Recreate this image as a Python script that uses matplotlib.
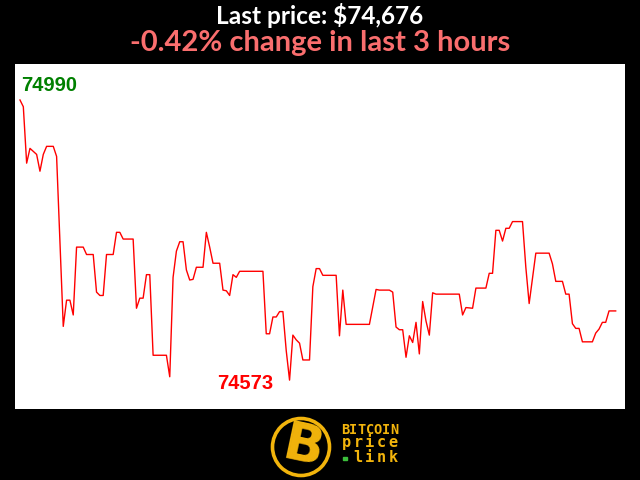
#!/usr/bin/env python
# -*- coding: utf-8 -*-
"""Bitcoin last 3 hours price chart"""

import numpy as np
import matplotlib as mpl
mpl.use("Agg")
import matplotlib.pyplot as plt
from matplotlib.patches import Circle, Rectangle

# minutes since start of window, and price (USD) at that minute
minutes = [0, 1, 2, 3, 5, 6, 7, 8, 10, 11, 13, 14, 15, 16, 17, 19, 20, 22, 23, 24,
           25, 26, 28, 29, 30, 31, 34, 35, 36, 37, 38, 39, 40, 44, 45, 46, 47, 48, 49, 50,
           51, 52, 53, 55, 56, 57, 58, 60, 61, 62, 63, 64, 65, 66, 73, 74, 75, 76, 77, 78,
           79, 80, 81, 82, 83, 84, 85, 87, 88, 89, 90, 91, 95, 96, 97, 98, 105, 107, 108, 111,
           112, 113, 114, 115, 116, 117, 118, 119, 120, 121, 122, 123, 124, 125, 132, 133, 134, 136, 137, 140,
           141, 142, 143, 144, 145, 146, 147, 148, 151, 152, 153, 155, 159, 160, 161, 163, 164, 165, 166, 167,
           168, 169, 172, 173, 174, 175, 176, 177, 179]
prices = [74990, 74980, 74896, 74918, 74909, 74884, 74909, 74921, 74921, 74906,
          74653, 74692, 74692, 74670, 74771, 74771, 74760, 74760, 74704, 74699,
          74699, 74760, 74760, 74793, 74793, 74783, 74783, 74680, 74695, 74695,
          74730, 74730, 74610, 74610, 74578, 74726, 74765, 74779, 74779, 74737,
          74722, 74723, 74741, 74741, 74793, 74771, 74747, 74747, 74707, 74706,
          74699, 74730, 74726, 74735, 74735, 74642, 74642, 74667, 74667, 74675,
          74675, 74617, 74573, 74640, 74633, 74628, 74603, 74603, 74712, 74739,
          74739, 74729, 74729, 74639, 74707, 74656, 74656, 74708, 74707, 74707,
          74704, 74652, 74648, 74648, 74607, 74639, 74629, 74659, 74612, 74690,
          74661, 74640, 74703, 74701, 74701, 74670, 74681, 74680, 74710, 74710,
          74732, 74732, 74796, 74796, 74780, 74799, 74799, 74809, 74809, 74741,
          74687, 74762, 74762, 74746, 74720, 74720, 74701, 74701, 74657, 74650,
          74650, 74630, 74630, 74643, 74649, 74659, 74659, 74676, 74676]

last_price = 74676
change_pct = -0.42
hours = 3

W, H = 640, 480
fig = plt.figure(figsize=(6.4, 4.8), dpi=100, facecolor='black')

# chart panel
ax = fig.add_axes([15 / W, 1 - 409 / H, 610 / W, 345 / H])
ax.set_facecolor('white')
ax.plot(minutes, prices, color='red', lw=1)
ax.set_xlim(-1.5, 181.8)
ax.set_ylim(74530, 75043.6)
ax.set_xticks([])
ax.set_yticks([])
for s in ax.spines.values():
    s.set_visible(False)

# high / low labels
i_hi = int(np.argmax(prices))
i_lo = int(np.argmin(prices))
ax.annotate(str(prices[i_hi]), (minutes[i_hi], prices[i_hi]),
            xytext=(1, 9), textcoords='offset pixels', ha='left', va='baseline',
            color='green', fontsize=14.5, fontweight='bold', family='Liberation Sans')
ax.annotate(str(prices[i_lo]), (minutes[i_lo], prices[i_lo]),
            xytext=(-16, -9), textcoords='offset pixels', ha='right', va='baseline',
            color='red', fontsize=14.5, fontweight='bold', family='Liberation Sans')

# titles
fig.text(0.5, 1 - 24.5 / H, 'Last price: ${:,}'.format(last_price), ha='center', va='baseline',
         color='white', fontsize=17.6, fontweight='bold', family='Lato')
fig.text(0.5, 1 - 51 / H, '{:.2f}% change in last {} hours'.format(change_pct, hours),
         ha='center', va='baseline', color='#fa6e6e', fontsize=21, fontweight='bold', family='Lato')

# logo
gold = '#f2b40c'
logo = fig.add_axes([0, 0, 1, 1], facecolor='none')
logo.set_xlim(0, W)
logo.set_ylim(H, 0)
logo.axis('off')
logo.add_patch(Circle((301, 447), 28.5, facecolor='black', edgecolor=gold, lw=2.6))
logo.text(303, 447, 'B', color=gold, fontsize=38, fontweight='bold', family='DejaVu Sans',
          ha='center', va='center', rotation=-12)


def spread(word, x0, x1, y, size):
    # spread the letters of a word evenly between two centre positions
    xs = np.linspace(x0, x1, len(word))
    for ch, x in zip(word, xs):
        logo.text(x, y, ch, color=gold, fontsize=size, fontweight='bold',
                  family='DejaVu Sans Mono', ha='center', va='baseline')


spread('BITCOIN', 345, 394.5, 433.5, 9.8)
spread('price', 346.5, 393, 447, 11)
spread('link', 357.5, 393, 461.5, 11)
logo.add_patch(Rectangle((343, 456.5), 4, 3, color='#3cbf3c'))

fig.savefig('out.png', dpi=100, facecolor='black')
